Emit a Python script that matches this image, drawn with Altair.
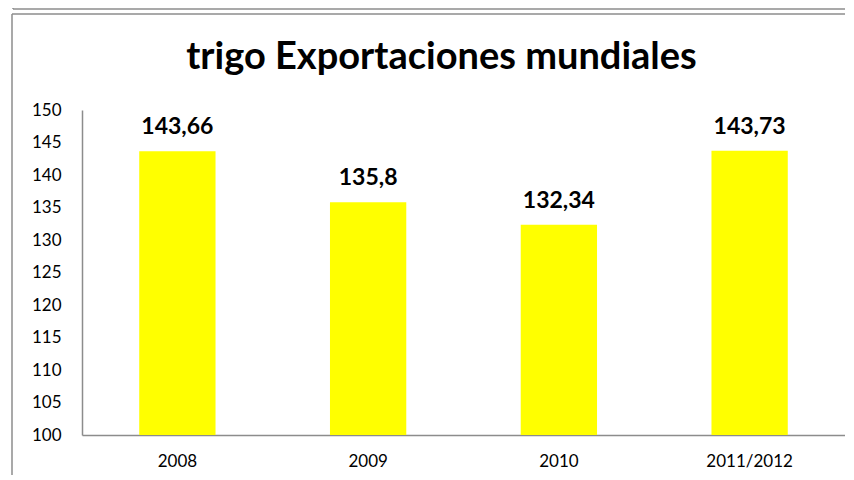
import altair as alt
import pandas as pd

years = ["2008", "2009", "2010", "2011/2012"]
values = [143.66, 135.8, 132.34, 143.73]
labels = [str(v).replace(".", ",") for v in values]
y_ticks = [100, 105, 110, 115, 120, 125, 130, 135, 140, 145, 150]
title_text = "trigo Exportaciones mundiales"

df = pd.DataFrame({"year": years, "value": values, "label": labels})

FONT = "Lato"
GRAY = "#8c8c8c"

x_enc = alt.X(
    "year:N",
    sort=years,
    title=None,
    scale=alt.Scale(paddingInner=0.6, paddingOuter=0.3),
    axis=alt.Axis(labelAngle=0, ticks=False, domainColor=GRAY, domainWidth=1.5,
                  labelFont=FONT, labelFontSize=17, labelColor="#000000",
                  labelPadding=18, labelOverlap=False),
)
y_enc = alt.Y(
    "value:Q",
    title=None,
    scale=alt.Scale(domain=[100, 150], nice=False, zero=False),
    axis=alt.Axis(values=y_ticks, tickCount=11, ticks=False, grid=False,
                  domainColor=GRAY, domainWidth=1.5, labelFont=FONT,
                  labelFontSize=17, labelColor="#000000", labelPadding=21,
                  labelOverlap=False, labelFlush=False),
)

base = alt.Chart(df)
bars = base.mark_bar(color="#FFFF00").encode(x=x_enc, y=y_enc, y2=alt.datum(100))
texts = base.mark_text(font=FONT, fontSize=23, fontWeight="bold", color="#000000",
                       baseline="alphabetic", dy=-17).encode(
    x=x_enc, y=y_enc, text="label:N")

one = alt.Data(values=[{"t": title_text}])
title_mark = alt.Chart(one).mark_text(font=FONT, fontSize=38, fontWeight="bold",
                                      color="#000000", baseline="alphabetic",
                                      align="center").encode(
    x=alt.value(359.5), y=alt.value(-41), text="t:N")
frame_top = alt.Chart(one).mark_rule(color=GRAY, strokeWidth=1.5).encode(
    x=alt.value(-70), x2=alt.value(800), y=alt.value(-96))
frame_left = alt.Chart(one).mark_rule(color=GRAY, strokeWidth=1.5).encode(
    x=alt.value(-70), y=alt.value(-96), y2=alt.value(400))
prev_bottom = alt.Chart(one).mark_rule(color=GRAY, strokeWidth=1.5).encode(
    x=alt.value(-69), x2=alt.value(800), y=alt.value(-101))
prev_left = alt.Chart(one).mark_rule(color=GRAY, strokeWidth=1.5).encode(
    x=alt.value(-69), y=alt.value(-110), y2=alt.value(-101))

chart = alt.layer(frame_top, frame_left, prev_bottom, prev_left, title_mark,
                  bars, texts).properties(
    width=763,
    height=325,
    autosize=alt.AutoSizeParams(type="none"),
    padding={"left": 74, "top": 102, "right": 0, "bottom": 40},
).configure_view(stroke=None)

chart.save("out.html", embed_options={"renderer": "svg", "actions": False})
